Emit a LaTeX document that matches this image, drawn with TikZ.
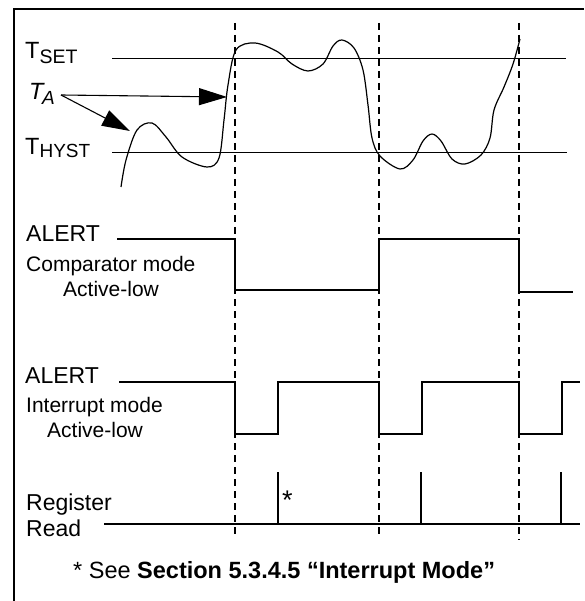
\documentclass[tikz,border=0pt]{standalone}
\usepackage{fontspec}
\setmainfont{Liberation Sans}
\usetikzlibrary{arrows.meta}
\begin{document}
\begin{tikzpicture}[x=1pt,y=-1pt,
  lbl/.style={inner sep=0pt, anchor=base west, font=\fontsize{23}{23}\selectfont},
  sml/.style={inner sep=0pt, anchor=base west, font=\fontsize{21}{21}\selectfont},
  thr/.style={line width=0.9pt},
  sig/.style={line width=1.8pt},
  guide/.style={line width=1.9pt, dash pattern=on 7pt off 5pt},
  pointer/.style={line width=1.1pt, -{Triangle[length=28pt,width=17pt]}},
  frame/.style={line width=2.4pt},
  wave/.style={line width=1.2pt}
]
\useasboundingbox (0,0) rectangle (584,601);
\draw[frame] (14,601) -- (14,9) -- (584,9);

% labels
\node[lbl] (tset) at (25,59) {\fontsize{23.5}{23.5}\selectfont T\raisebox{-5pt}{\fontsize{19.5}{19.5}\selectfont SET}};
\node[lbl] (ta) at (29,100) {\fontsize{23.5}{23.5}\selectfont\textit{T\kern-1.5pt\raisebox{-5pt}{\fontsize{19}{19}\selectfont A}}};
\node[lbl] (thyst) at (25,155) {\fontsize{23.5}{23.5}\selectfont T\raisebox{-3pt}{\fontsize{19}{19}\selectfont HYST}};
\node[lbl] (alert1) at (26,242) {ALERT};
\node[sml] (cmode) at (26,271) {Comparator mode};
\node[sml] (clow) at (63,296) {Active-low};
\node[lbl] (alert2) at (25,383) {ALERT};
\node[sml] (imode) at (26,412) {Interrupt mode};
\node[sml] (ilow) at (47,437) {Active-low};
\node[lbl] (reg) at (26,510) {Register};
\node[lbl] (read) at (26,536) {Read};
\node[lbl, font=\fontsize{27}{27}\selectfont] (star) at (282,509) {*};
\node[inner sep=0pt, anchor=base west, font=\fontsize{23.5}{23.5}\selectfont] (note) at (73,578) {* See \textbf{Section 5.3.4.5 “Interrupt Mode”}};

% thresholds
\draw[thr] (112,58) -- (566,58);
\draw[thr] (112,152) -- (567,152);

% dashed guides
\draw[guide] (235,23) -- (235,535);
\draw[guide] (379,23) -- (379,535);
\draw[guide] (519,23) -- (519,540);

% temperature curve
\draw[wave] plot[smooth, tension=0.55] coordinates {
 (121,187) (126,160) (137,130) (152,123) (166,137) (182,157) (207,167)
 (219,158) (224,120) (228,85) (236,50) (255,43) (278,52) (292,64) (308,71)
 (323,64) (333,46) (342,40) (354,48) (363,70) (368,105) (372,138) (380,156)
 (400,169) (413,160) (423,141) (432,134) (441,141) (452,159) (465,164)
 (481,155) (490,138) (494,110) (504,87) (513,64) (520,39)};

% pointers
\coordinate (tail) at (61,95);
\coordinate (hit1) at (227,97);
\coordinate (hit2) at (130,131);
\draw[pointer] (tail) -- (hit1);
\draw[pointer] (tail) -- (hit2);

% comparator alert
\draw[sig] (117,239) -- (235,239) -- (235,290) -- (379,290) -- (379,239) -- (519,239) -- (519,292) -- (573,292);
% interrupt alert
\draw[sig] (119,382) -- (235,382) -- (235,434) -- (278,434) -- (278,382) -- (379,382) -- (379,434) -- (422,434) -- (422,382) -- (519,382) -- (519,434) -- (562,434) -- (562,382) -- (580,382);
% register read
\draw[sig] (104,524) -- (580,524);
\draw[sig] (278,524) -- (278,472);
\draw[sig] (421,524) -- (421,472);
\draw[sig] (561,524) -- (561,472);
\end{tikzpicture}
\end{document}
